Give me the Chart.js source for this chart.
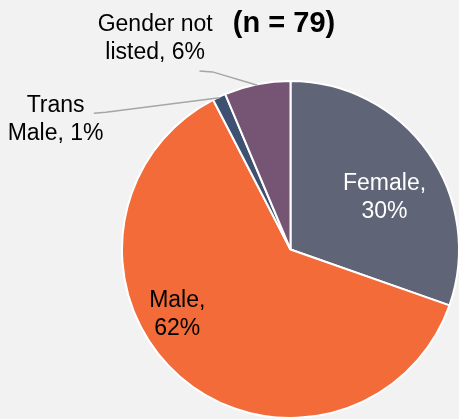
<!DOCTYPE html>
<html>
<head>
<meta charset="utf-8">
<script src="https://cdn.jsdelivr.net/npm/chart.js@4"></script>
<style>
  html, body { margin: 0; padding: 0; background: #f2f2f2; overflow: hidden; }
  canvas { display: block; }
</style>
</head>
<body>
<canvas id="pieChart" width="470" height="419"></canvas>
<script>
// data
const categories = ['Female', 'Male', 'Trans Male', 'Gender not listed'];
const counts = [24, 49, 1, 5]; // n = 79
const percentLabels = ['30%', '62%', '1%', '6%'];
const labelLines = [['Female,', '30%'], ['Male,', '62%'], ['Trans', 'Male, 1%'], ['Gender not', 'listed, 6%']];
const colors = ['#5f6477', '#f26b38', '#3e5173', '#765574'];
const title = '(n = 79)';

const FONT = '"Liberation Sans", Arial, sans-serif';

// label placement relative to pie centre, in units of radius
const labelSpots = [
    { dx: 0.558, dy: -0.319, color: '#ffffff' },
    { dx: -0.672, dy: 0.379, color: '#000000' },
    { dx: -1.394, dy: -0.779, color: '#000000', line: [[-1.167, -0.809], [-1.096, -0.815]] },
    { dx: -0.803, dy: -1.263, color: '#000000', line: [[-0.540, -1.060], [-0.463, -1.054]] }
];

const labelPlugin = {
    id: 'sliceLabels',
    afterDatasetsDraw(chart) {
        const ctx = chart.ctx;
        const arcs = chart.getDatasetMeta(0).data;
        ctx.save();
        arcs.forEach((arc, i) => {
            const spot = labelSpots[i];
            const r = arc.outerRadius;
            const cx = arc.x + spot.dx * r;
            const cy = arc.y + spot.dy * r;
            if (spot.line) {
                // leader line ends on the slice edge at its mid angle
                const mid = (arc.startAngle + arc.endAngle) / 2;
                const ex = arc.x + Math.cos(mid) * (r - 1);
                const ey = arc.y + Math.sin(mid) * (r - 1);
                ctx.strokeStyle = '#a6a6a6';
                ctx.lineWidth = 1.5;
                ctx.beginPath();
                ctx.moveTo(arc.x + spot.line[0][0] * r, arc.y + spot.line[0][1] * r);
                ctx.lineTo(arc.x + spot.line[1][0] * r, arc.y + spot.line[1][1] * r);
                ctx.lineTo(ex, ey);
                ctx.stroke();
            }
            ctx.fillStyle = spot.color;
            ctx.font = '23px ' + FONT;
            ctx.textAlign = 'center';
            ctx.textBaseline = 'alphabetic';
            const lines = labelLines[i];
            ctx.fillText(lines[0], cx, cy - 6);
            ctx.fillText(lines[1], cx, cy + 22);
        });
        ctx.font = 'bold 29px ' + FONT;
        ctx.fillStyle = '#000000';
        ctx.textAlign = 'center';
        ctx.fillText(title, 284, 32);
        ctx.restore();
    }
};

const ctxPie = document.getElementById('pieChart').getContext('2d');
const pieChart = new Chart(ctxPie, {
    type: 'pie',
    data: {
        labels: categories,
        datasets: [{
            data: counts,
            backgroundColor: colors,
            borderColor: '#ffffff',
            borderWidth: 2
        }]
    },
    options: {
        responsive: false,
        animation: false,
        layout: { padding: { left: 121, right: 10, top: 80, bottom: 0 } },
        plugins: {
            legend: { display: false },
            tooltip: { enabled: false }
        }
    },
    plugins: [labelPlugin]
});
</script>
</body>
</html>
